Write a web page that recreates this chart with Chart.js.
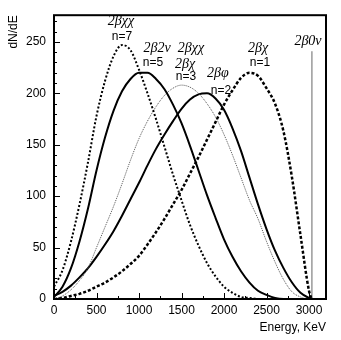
<!DOCTYPE html>
<html><head><meta charset="utf-8">
<script src="https://cdn.jsdelivr.net/npm/chart.js@4"></script>
<style>html,body{margin:0;padding:0;background:#fff}</style>
</head><body>
<canvas id="c" width="341" height="340" style="width:341px;height:340px"></canvas>
<script>
const energies = [0,100,200,300,400,500,600,700,800,900,1000,1100,1200,1300,1400,1500,1600,1700,1800,1900,2000,2100,2200,2300,2400,2500,2600,2700,2800,2900,3000,3030];
const n1 = [0,1,3,5,8,12,16,21,27,34,42,53,65,78,92,106,122,138,155,172,189,203,215,220,217,205,190,163,118,62,8,0];
const n2 = [3,7,13,21,30,41,53,66,81,97,113,130,146,160,173,185,194,199,200,195,184,166,144,118,92,68,47,30,16,6,1,0];
const n3 = [0,3,9,18,30,50,70,90,112,135,156,173,187,198,205,208,206,200,190,177,160,140,118,96,78,56,36,19,7,2,0,0];
const n5 = [2,12,30,56,88,125,157,183,202,214,220,220,214,204,189,171,149,125,101,79,58,41,27,16,8,4,1,0,0,0,0,0];
const n7 = [12,28,56,92,133,178,212,236,247,242,223,200,175,148,121,96,72,52,35,22,12,6,2,1,0,0,0,0,0,0,0,0];
const q0nuEnergy = 3034;
const q0nuTop = 241;
const yTicks = [0,50,100,150,200,250];
const xTicks = [0,500,1000,1500,2000,2500,3000];
const yTitle = 'dN/dE';
const labels = [
  {t:'2βχχ', x:788, y:270, it:true},
  {t:'n=7', x:800, y:255},
  {t:'2β2ν', x:1212, y:244, it:true},
  {t:'2βχχ', x:1612, y:244, it:true},
  {t:'n=5', x:1165, y:230},
  {t:'2βχ', x:1541, y:228, it:true},
  {t:'n=3', x:1553, y:216},
  {t:'2βφ', x:1929, y:219, it:true},
  {t:'n=2', x:1965, y:203},
  {t:'2βχ', x:2400, y:244, it:true},
  {t:'n=1', x:2424, y:230},
  {t:'2β0ν', x:2988, y:251, it:true}
];
const pts = arr => energies.map((e,i)=>({x:e,y:arr[i]}));

const decor = {
  id:'decor',
  afterDatasetsDraw(chart){
    const {ctx, chartArea:a, scales:{x, y}} = chart;
    ctx.save();
    ctx.strokeStyle='#000';
    ctx.lineWidth=1;
    for(let v=10; v<y.max; v+=10){
      const p=Math.round(y.getPixelForValue(v))+0.5;
      const L = v%50===0?6:3;
      ctx.beginPath(); ctx.moveTo(a.left, p); ctx.lineTo(a.left+L, p); ctx.stroke();
    }
    for(let v=250; v<x.max; v+=250){
      const p=Math.round(x.getPixelForValue(v))+0.5;
      const L = v%500===0?6:3;
      ctx.beginPath(); ctx.moveTo(p, a.bottom); ctx.lineTo(p, a.bottom-L); ctx.stroke();
    }
    ctx.lineWidth=2;
    ctx.strokeRect(a.left, a.top, a.right-a.left, a.bottom-a.top);
    ctx.fillStyle='#000';
    ctx.textAlign='center';
    ctx.textBaseline='middle';
    for(const l of labels){
      ctx.font = l.it ? "italic 14px 'Liberation Serif'" : "12px 'Liberation Sans'";
      ctx.fillText(l.t, x.getPixelForValue(l.x), y.getPixelForValue(l.y));
    }
    // rotated y-axis title, anchored at top of plot area
    ctx.font = "12px 'Liberation Sans'";
    ctx.translate(14, a.top);
    ctx.rotate(-Math.PI/2);
    ctx.textAlign='right';
    ctx.fillText(yTitle, 0, 0);
    ctx.restore();
  }
};

new Chart(document.getElementById('c'), {
  type:'line',
  data:{datasets:[
    {data:pts(n7), borderColor:'#000', borderWidth:2, borderDash:[2,2]},
    {data:pts(n5), borderColor:'#000', borderWidth:2},
    {data:pts(n3), borderColor:'#555', borderWidth:1, borderDash:[1,1]},
    {data:pts(n2), borderColor:'#000', borderWidth:2},
    {data:pts(n1), borderColor:'#000', borderWidth:2.5, borderDash:[3,2]},
    {data:[{x:q0nuEnergy,y:0},{x:q0nuEnergy,y:q0nuTop}], borderColor:'#999', borderWidth:1.5}
  ]},
  options:{
    responsive:false, animation:false,
    layout:{padding:{top:10,right:15,left:0,bottom:0}},
    elements:{point:{radius:0}, line:{cubicInterpolationMode:'monotone', fill:false}},
    plugins:{legend:{display:false}, tooltip:{enabled:false}},
    scales:{
      x:{type:'linear', min:0, max:3200,
        afterBuildTicks(s){ s.ticks = xTicks.map(v=>({value:v})); },
        afterFit(s){ s.height = 41; },
        grid:{display:false, drawTicks:false},
        border:{display:false},
        ticks:{padding:4, color:'#000', font:{family:'Liberation Sans', size:12}, maxRotation:0, callback:v=>String(v)},
        title:{display:true, text:'Energy, KeV', align:'end', color:'#000', font:{family:'Liberation Sans', size:12}, padding:{top:0,bottom:5}}
      },
      y:{type:'linear', min:0, max:276,
        afterBuildTicks(s){ s.ticks = yTicks.map(v=>({value:v})); },
        afterFit(s){ s.width = 54; },
        grid:{display:false, drawTicks:false},
        border:{display:false},
        ticks:{padding:8, color:'#000', font:{family:'Liberation Sans', size:12}, callback:v=>String(v)}
      }
    }
  },
  plugins:[decor]
});
</script>
</body></html>
